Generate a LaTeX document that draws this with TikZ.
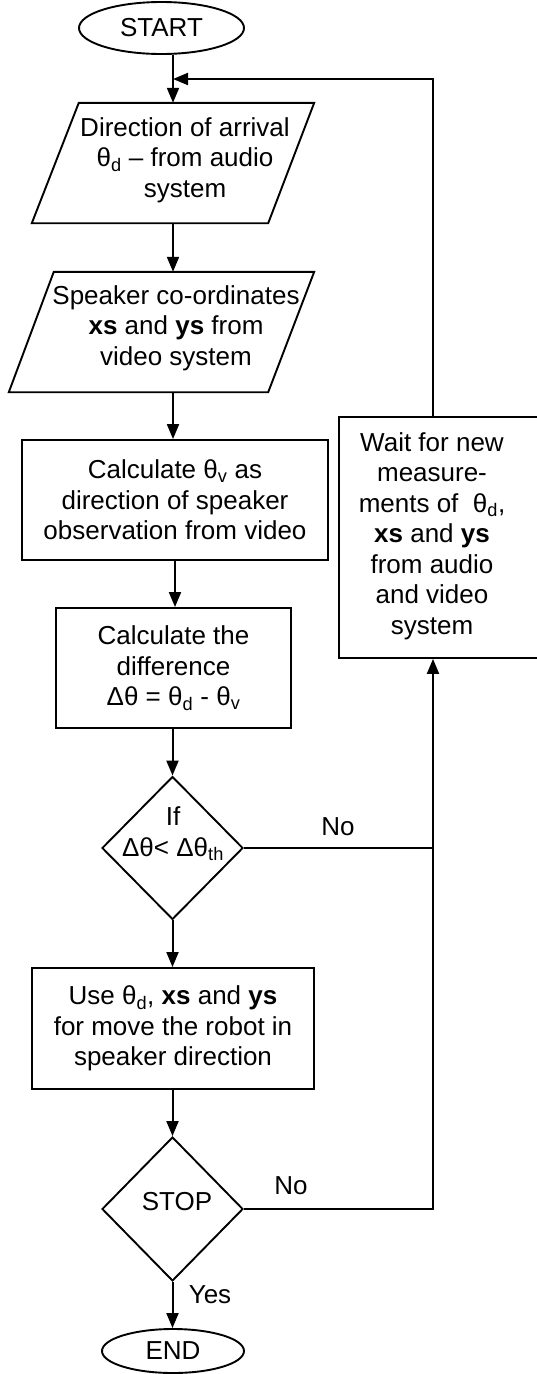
\documentclass[tikz,border=0pt]{standalone}
\usepackage{fontspec}
\setmainfont{Liberation Sans}
\usetikzlibrary{shapes.geometric,arrows.meta,calc}
\begin{document}
\begin{tikzpicture}[x=1pt,y=-1pt,
  every node/.style={font=\fontsize{26pt}{30.5pt}\selectfont, text=black, inner sep=0pt},
  shapebox/.style={draw, line width=1.9pt, inner sep=0pt, align=center},
  shapeline/.style={line width=1.9pt, line join=miter},
  txt/.style={align=center},
  conn/.style={line width=2pt},
  arr/.style={conn, -{Triangle[length=15pt,width=12pt]}}
]
\useasboundingbox (0,0) rectangle (536,1374);

% START
\node[shapebox, ellipse, minimum width=165pt, minimum height=52pt] (start) at (161.5,28) {START};

% parallelogram 1
\node[minimum width=282pt, minimum height=120pt] (p1) at (173,163) {};
\draw[shapeline] ([xshift=47pt]p1.north west) -- (p1.north east) -- ([xshift=-46pt]p1.south east) -- (p1.south west) -- cycle;
\node[txt] (p1t) at (185,160) {Direction of arrival\\θ\textsubscript{d} – from audio\\system};

% parallelogram 2
\node[minimum width=305pt, minimum height=120pt] (p2) at (161.5,332) {};
\draw[shapeline] ([xshift=45pt]p2.north west) -- (p2.north east) -- ([xshift=-46pt]p2.south east) -- (p2.south west) -- cycle;
\node[txt] (p2t) at (176,328) {Speaker co-ordinates\\\textbf{xs} and \textbf{ys} from\\video system};

% calculate theta_v
\node[shapebox, minimum width=306pt, minimum height=120pt] (calcv) at (175,500) {Calculate θ\textsubscript{v} as\\direction of speaker\\observation from video};

% difference
\node[shapebox, minimum width=235pt, minimum height=120pt] (diff) at (173.5,668) {Calculate the\\difference\\Δθ = θ\textsubscript{d} - θ\textsubscript{v}};

% decision 1
\node[shapebox, diamond, minimum width=141pt, minimum height=143pt] (d1) at (172.5,848) {};
\node[txt] (d1t) at (173,834) {If\\Δθ< Δθ\textsubscript{th}};

% use
\node[shapebox, minimum width=282pt, minimum height=121pt] (use) at (173,1028.5) {Use θ\textsubscript{d}, \textbf{xs} and \textbf{ys}\\for move the robot in\\speaker direction};

% decision 2
\node[shapebox, diamond, minimum width=141pt, minimum height=144pt] (d2) at (172.5,1209) {};
\node (d2t) at (177,1202) {STOP};

% END
\node[shapebox, ellipse, minimum width=142pt, minimum height=44pt] (finish) at (173,1351) {END};

% wait box
\node[shapebox, minimum width=205pt, minimum height=241pt, anchor=north west] (wait) at (338,416) {};
\node[txt] (waitt) at (432,536) {Wait for new\\measure-\\ments of \ θ\textsubscript{d},\\\textbf{xs} and \textbf{ys}\\from audio\\and video\\system};

% labels
\node (no1) at (338,827) {No};
\node (no2) at (291,1186) {No};
\node (yes) at (210,1295) {Yes};

% connectors
\coordinate (bus) at (433,79);
\draw[arr] (start.south -| p1.north) -- (p1.north);
\draw[arr] (p1.south) -- (p1.south |- p2.north);
\draw[arr] (p1.south |- p2.south) -- (p1.south |- calcv.north);
\draw[arr] (calcv.south) -- (calcv.south |- diff.north);
\draw[arr] (diff.south -| d1.north) -- (d1.north);
\draw[arr] (d1.south) -- (d1.south |- use.north);
\draw[arr] (use.south -| d2.north) -- (d2.north);
\draw[arr] (d2.south) -- (d2.south |- finish.north);
\draw[arr] (wait.north -| bus) -- (bus) -- (p1.north |- bus);
\draw[conn] (d1.east) -- (d1.east -| bus);
\draw[arr] (d2.east) -- (d2.east -| bus) -- (wait.south -| bus);
\end{tikzpicture}
\end{document}
